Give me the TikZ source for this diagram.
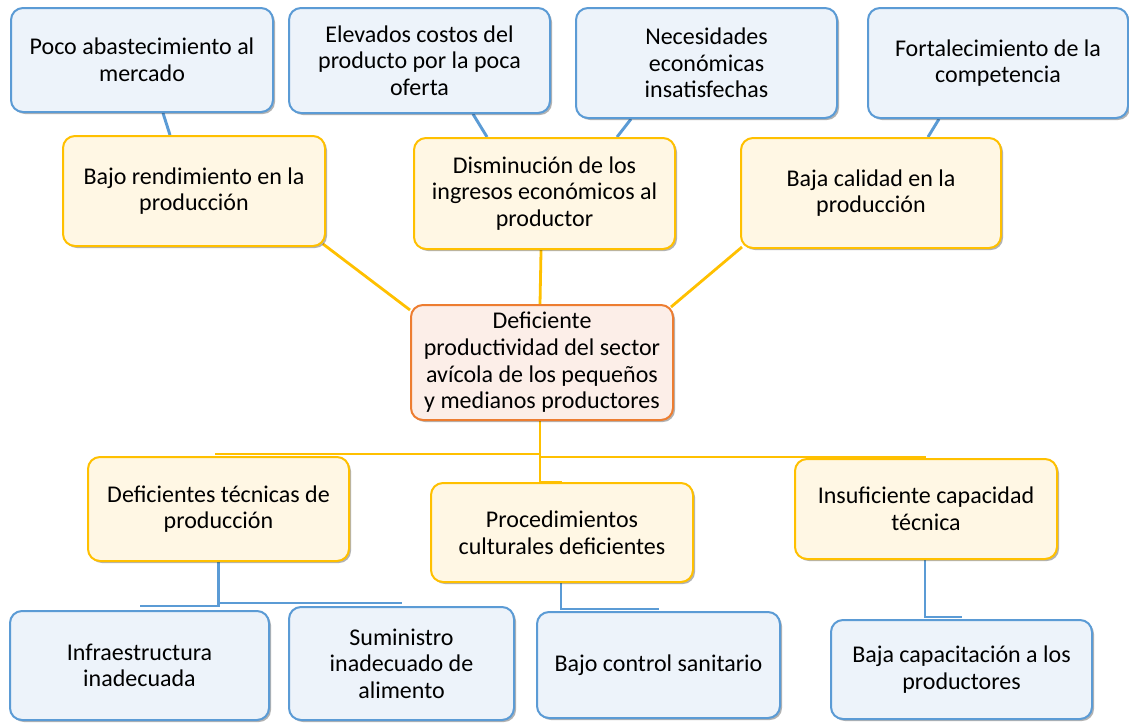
\documentclass[tikz,border=0pt]{standalone}
\usepackage{fontspec}
\setmainfont{Carlito}
\usetikzlibrary{shadows,backgrounds}
\definecolor{bluefill}{HTML}{EDF3FA}
\definecolor{blueline}{HTML}{5B9BD5}
\definecolor{yelfill}{HTML}{FFF7E4}
\definecolor{yelline}{HTML}{FFC000}
\definecolor{ctrfill}{HTML}{FCEEE8}
\definecolor{ctrline}{HTML}{ED7D31}
\tikzset{
  box/.style={rectangle, rounded corners=9pt, line width=1.5pt, align=center, inner sep=0pt,
    font=\fontsize{18}{20}\selectfont, text=black,
    drop shadow={shadow xshift=1.5pt, shadow yshift=-1.5pt, opacity=0.3, fill=black}},
  bluebox/.style={box, draw=blueline, fill=bluefill},
  yelbox/.style={box, draw=yelline, fill=yelfill},
  ctrbox/.style={box, draw=ctrline, fill=ctrfill},
  blink/.style={draw=blueline, line width=2.2pt},
  ylink/.style={draw=yelline, line width=2.1pt},
}
\begin{document}
\begin{tikzpicture}[x=0.75pt, y=-0.75pt]
\useasboundingbox (0,0) rectangle (1129,722);
% top effects
\node[bluebox, minimum width=196.5pt, minimum height=78pt] (t1) at (142,60) {Poco abastecimiento al\\mercado};
\node[bluebox, minimum width=195.75pt, minimum height=78.75pt] (t2) at (419.5,60.5) {Elevados costos del\\producto por la poca\\oferta};
\node[bluebox, minimum width=195.75pt, minimum height=82.5pt] (t3) at (706.5,63) {Necesidades\\económicas\\insatisfechas};
\node[bluebox, minimum width=195pt, minimum height=82.5pt] (t4) at (998,63) {Fortalecimiento de la\\competencia};
% middle effects
\node[yelbox, minimum width=196.5pt, minimum height=82.5pt] (m1) at (194,191) {Bajo rendimiento en la\\producción};
\node[yelbox, minimum width=195.75pt, minimum height=83.25pt] (m2) at (544.5,193.5) {Disminución de los\\ingresos económicos al\\productor};
\node[yelbox, minimum width=195pt, minimum height=82.5pt] (m3) at (871,193) {Baja calidad en la\\producción};
% central problem
\node[ctrbox, minimum width=196.5pt, minimum height=86.25pt] (c) at (542,362.5) {Deficiente\\productividad del sector\\avícola de los pequeños\\y medianos productores};
% causes
\node[yelbox, minimum width=195.75pt, minimum height=78pt] (b1) at (218.5,509) {Deficientes técnicas de\\producción};
\node[yelbox, minimum width=196.5pt, minimum height=74.25pt] (b2) at (562,532.5) {Procedimientos\\culturales deficientes};
\node[yelbox, minimum width=196.5pt, minimum height=75pt] (b3) at (926,509) {Insuficiente capacidad\\técnica};
% sub causes
\node[bluebox, minimum width=194.25pt, minimum height=81.75pt] (l1) at (139.5,665.5) {Infraestructura\\inadecuada};
\node[bluebox, minimum width=168.75pt, minimum height=84.75pt] (l2) at (401.5,663.5) {Suministro\\inadecuado de\\alimento};
\node[bluebox, minimum width=182.25pt, minimum height=79.5pt] (l3) at (658.5,665) {Bajo control sanitario};
\node[bluebox, minimum width=195.75pt, minimum height=74.25pt] (l4) at (961.5,669.5) {Baja capacitación a los\\productores};
\begin{pgfonlayer}{background}
% blue links top
\draw[blink] ([xshift=15.75pt]t1.south) -- ([xshift=-18pt]m1.north);
\draw[blink] ([xshift=40.1pt]t2.south) -- ([xshift=-43.1pt]m2.north);
\draw[blink] ([xshift=-56.6pt]t3.south) -- ([xshift=54.4pt]m2.north);
\draw[blink] ([xshift=-44.25pt]t4.south) -- ([xshift=42.75pt]m3.north);
% yellow links to centre
\draw[ylink] ([xshift=-2.25pt,yshift=2.25pt]m1.south east) -- ([yshift=-4.5pt]c.north west);
\draw[ylink] ([xshift=-2.6pt]m2.south) -- ([xshift=-1.5pt]c.north);
\draw[ylink] ([xshift=1.5pt,yshift=1.5pt]m3.south west) -- ([xshift=-2.25pt,yshift=-2.25pt]c.north east);
% yellow links to causes
\draw[ylink] ([xshift=-1.5pt]c.south) |- ([xshift=-2.6pt,yshift=1.5pt]b1.north);
\draw[ylink] ([xshift=-1.5pt]c.south) |- (b2.north);
\draw[ylink] ([xshift=-1.5pt]c.south) |- ([yshift=0.75pt]b3.north);
% blue links to sub causes
\draw[blink] (b1.south) |- ([yshift=3pt]l1.north);
\draw[blink] (b1.south) |- ([yshift=2.25pt]l2.north);
\draw[blink] ([xshift=-0.75pt]b2.south) |- ([yshift=1.5pt]l3.north);
\draw[blink] ([xshift=-0.75pt]b3.south) |- ([yshift=1.5pt]l4.north);
\end{pgfonlayer}
\end{tikzpicture}
\end{document}
